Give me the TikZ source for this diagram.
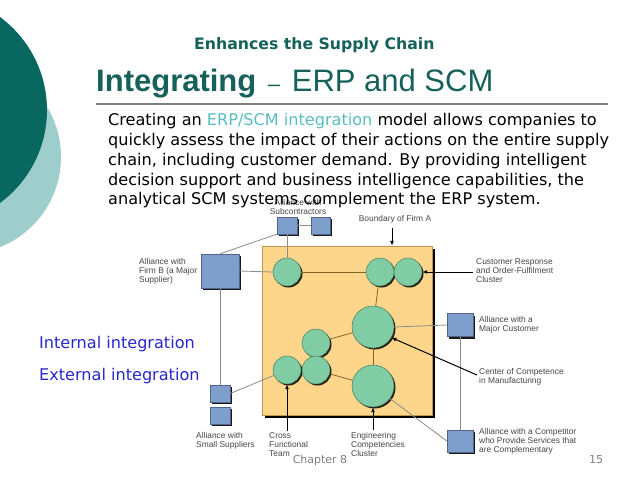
\documentclass[tikz,border=0pt]{standalone}
\usepackage{fontspec}
\setmainfont{DejaVu Sans}
\newfontfamily\arialf{Liberation Sans}
\usetikzlibrary{arrows.meta,shadows}
\definecolor{tealdark}{RGB}{8,104,96}
\definecolor{teallight}{RGB}{158,206,204}
\definecolor{titlecol}{RGB}{22,98,90}
\definecolor{hilite}{RGB}{90,190,190}
\definecolor{intblue}{RGB}{40,40,200}
\definecolor{boxfill}{RGB}{253,214,140}
\definecolor{boxline}{RGB}{190,150,80}
\definecolor{circfill}{RGB}{128,204,164}
\definecolor{circline}{RGB}{60,110,80}
\definecolor{sqfill}{RGB}{126,158,204}
\definecolor{sqline}{RGB}{80,100,140}
\definecolor{inl}{RGB}{130,100,40}
\definecolor{exl}{RGB}{140,140,140}
\definecolor{labcol}{RGB}{70,70,70}
\begin{document}
\begin{tikzpicture}[x=1pt,y=-1pt,
  cir/.style={circle, inner sep=0pt, minimum size=#1, fill=circfill, draw=circline, line width=0.4pt,
    drop shadow={shadow xshift=1.5pt, shadow yshift=-1.5pt, fill=black, opacity=0.85}},
  sq/.style={rectangle, inner sep=0pt, fill=sqfill, draw=sqline, line width=0.3pt,
    drop shadow={shadow xshift=2pt, shadow yshift=-2pt, fill=black, opacity=0.9}},
  boxst/.style={rectangle, inner sep=0pt, fill=boxfill, draw=boxline, line width=0.5pt,
    drop shadow={shadow xshift=2.5pt, shadow yshift=-2.5pt, fill=black, opacity=1}},
  inline/.style={draw=inl, line width=0.8pt},
  exline/.style={draw=exl, line width=0.8pt},
  arr/.style={draw=black, line width=1pt, -{Latex[length=5pt,width=4pt]}},
  lab/.style={inner sep=0pt, align=left, text=labcol, font=\arialf\fontsize{8.4}{9}\selectfont},
  body/.style={inner sep=0pt, anchor=base west, font=\fontsize{16.1}{20}\selectfont},
  integ/.style={inner sep=0pt, anchor=base west, text=intblue, font=\fontsize{16.1}{20}\selectfont}
]
\useasboundingbox (0,0) rectangle (640,480);
\clip (0,0) rectangle (640,480);
\fill[white] (0,0) rectangle (640,480);
% decorative circles
\fill[teallight] (-36,157) circle[radius=97];
\fill[tealdark] (-68.5,110) circle[radius=115.5];
% titles
\node[inner sep=0pt, anchor=base west, text=titlecol, font=\bfseries\fontsize{15.7}{18}\selectfont] (sub) at (194,49.5) {Enhances the Supply Chain};
\node[inner sep=0pt, anchor=base west, text=titlecol, font=\arialf\fontsize{31}{36}\selectfont] (title) at (96,91) {\textbf{Integrating}\hspace{3pt} {\fontsize{22}{26}\selectfont–}\hspace{3pt} ERP and SCM};
\coordinate (rl) at (96,104);
\coordinate (rr) at (608,104);
\draw[gray, line width=1.5pt] (rl) -- (rr);
% diagram label under body text
\node[lab, align=center, anchor=north] (lsub) at (298,199) {Alliance with\\Subcontractors};
% body text
\node[body] (b1) at (108,125) {Creating an \textcolor{hilite}{ERP/SCM integration} model allows companies to};
\node[body] (b2) at (108,145) {quickly assess the impact of their actions on the entire supply};
\node[body] (b3) at (108,165) {chain, including customer demand. By providing intelligent};
\node[body] (b4) at (108,185) {decision support and business intelligence capabilities, the};
\node[body] (b5) at (108,204) {analytical SCM systems complement the ERP system.};
\node[integ] (ii) at (39,348) {Internal integration};
\node[integ] (ei) at (39,380) {External integration};
% footer
\node[inner sep=0pt, text=gray, font=\fontsize{11}{13}\selectfont] (ch) at (320,460) {Chapter 8};
\node[inner sep=0pt, text=gray, font=\fontsize{11}{13}\selectfont] (pg) at (596,460) {15};
% boundary box
\node[boxst, minimum width=170pt, minimum height=169pt] (firmA) at (347,330.5) {};
% squares
\node[sq, minimum width=20pt, minimum height=17pt] (s1) at (287,225.5) {};
\node[sq, minimum width=19pt, minimum height=17pt] (s2) at (320.5,225.5) {};
\node[sq, minimum width=38pt, minimum height=34pt] (fb) at (220,271) {};
\node[sq, minimum width=20pt, minimum height=17pt] (ss1) at (220,393.5) {};
\node[sq, minimum width=20pt, minimum height=17pt] (ss2) at (220,415.5) {};
\node[sq, minimum width=26pt, minimum height=23pt] (mc) at (460,325) {};
\node[sq, minimum width=26pt, minimum height=22pt] (cp) at (460,441) {};
% circles
\node[cir=28pt] (c1) at (287,272) {};
\node[cir=28pt] (c2) at (380,272) {};
\node[cir=28pt] (c3) at (408,272) {};
\node[cir=42pt] (c4) at (373,327) {};
\node[cir=28pt] (c5) at (316,343) {};
\node[cir=28pt] (c6) at (287,370) {};
\node[cir=28pt] (c7) at (316,370) {};
\node[cir=42pt] (c8) at (373,386) {};
% internal connectors
\draw[inline] (c1) -- (c2);
\draw[inline] (c2) -- (c4);
\draw[inline] (c4) -- (c5);
\draw[inline] (c4) -- (c8);
\draw[inline] (c7) -- (c8);
% external connectors
\draw[exline] (fb.east) -- (c1.west);
\draw[exline] (s1) -- (c1);
\draw[exline] (s1) -- (s2);
\draw[exline] (fb.north) -- (s1.south west);
\draw[exline] (fb.south) -- (ss1.north);
\draw[exline] (ss1.east) -- (c6);
\draw[exline] (c4.east) -- (mc.west);
\draw[exline] (mc.south) -- (cp.north);
\draw[exline] (c8) -- (cp.west);
% arrows
\coordinate (ba) at (392,228);
\draw[arr] (ba) -- (ba |- firmA.north);
\coordinate (cr) at (473,272);
\draw[arr] (cr) -- (c3.east);
\coordinate (cc) at (477,375);
\draw[arr] (cc) -- (c4.-30);
\coordinate (cf) at (287,431);
\draw[arr] (cf) -- (c6.south);
\coordinate (ec) at (373,430);
\draw[arr] (ec) -- (c8.south);
% labels
\node[lab, align=center, anchor=north] (lbd) at (395,215) {Boundary of Firm A};
\node[lab, anchor=north west] (lfb) at (139,258) {Alliance with\\Firm B (a Major\\Supplier)};
\node[lab, anchor=north west] (lcr) at (476,258) {Customer Response\\and Order-Fulfilment\\Cluster};
\node[lab, anchor=north west] (lmc) at (479,316) {Alliance with a\\Major Customer};
\node[lab, anchor=north west] (lcc) at (479,368) {Center of Competence\\in Manufacturing};
\node[lab, anchor=north west] (lcp) at (479,428) {Alliance with a Competitor\\who Provide Services that\\are Complementary};
\node[lab, anchor=north west] (lss) at (196,432) {Alliance with\\Small Suppliers};
\node[lab, anchor=north west] (lcf) at (269,432) {Cross\\Functional\\Team};
\node[lab, anchor=north west] (lec) at (351,432) {Engineering\\Competencies\\Cluster};
\end{tikzpicture}
\end{document}
